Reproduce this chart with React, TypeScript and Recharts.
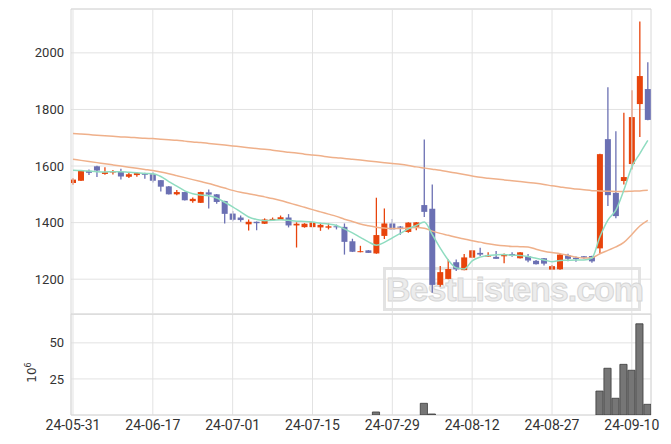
import React from "react";
import { ComposedChart, Bar, Line, XAxis, YAxis, CartesianGrid, ReferenceArea, ReferenceLine } from "recharts";

const dates = [
  "24-05-31", "24-06-03", "24-06-04", "24-06-05", "24-06-07", "24-06-10", "24-06-11", "24-06-12", "24-06-13", "24-06-14",
  "24-06-17", "24-06-18", "24-06-19", "24-06-20", "24-06-21", "24-06-24", "24-06-25", "24-06-26", "24-06-27", "24-06-28",
  "24-07-01", "24-07-02", "24-07-03", "24-07-04", "24-07-05", "24-07-08", "24-07-09", "24-07-10", "24-07-11", "24-07-12",
  "24-07-15", "24-07-16", "24-07-17", "24-07-18", "24-07-19", "24-07-22", "24-07-23", "24-07-24", "24-07-25", "24-07-26",
  "24-07-29", "24-07-30", "24-07-31", "24-08-01", "24-08-02", "24-08-05", "24-08-06", "24-08-07", "24-08-08", "24-08-09",
  "24-08-12", "24-08-13", "24-08-14", "24-08-16", "24-08-19", "24-08-20", "24-08-21", "24-08-22", "24-08-23", "24-08-26",
  "24-08-27", "24-08-28", "24-08-29", "24-08-30", "24-09-02", "24-09-03", "24-09-04", "24-09-05", "24-09-06", "24-09-09",
  "24-09-10", "24-09-11", "24-09-12",
];

const open = [
  1540, 1548, 1583, 1599, 1572, 1577, 1580, 1562, 1568, 1575,
  1571, 1550, 1528, 1500, 1508, 1476, 1470, 1507, 1500, 1476,
  1432, 1418, 1394, 1403, 1396, 1410, 1410, 1418, 1390, 1384,
  1384, 1383, 1382, 1387, 1385, 1334, 1296, 1302, 1291, 1353,
  1397, 1386, 1367, 1385, 1462, 1449, 1180, 1201, 1260, 1232,
  1276, 1293, 1280, 1279, 1281, 1289, 1274, 1281, 1265, 1274,
  1234, 1235, 1284, 1276, 1281, 1282, 1309, 1695, 1505, 1547,
  1607, 1819, 1872,
];
const high = [
  1557, 1584, 1588, 1601, 1596, 1586, 1590, 1575, 1579, 1576,
  1578, 1551, 1529, 1515, 1509, 1489, 1509, 1517, 1501, 1477,
  1441, 1425, 1411, 1404, 1415, 1418, 1425, 1430, 1401, 1398,
  1402, 1399, 1397, 1393, 1397, 1343, 1318, 1303, 1488, 1450,
  1413, 1388, 1401, 1402, 1694, 1535, 1247, 1270, 1270, 1289,
  1303, 1311, 1295, 1300, 1291, 1295, 1296, 1289, 1268, 1275,
  1250, 1290, 1290, 1280, 1282, 1283, 1643, 1878, 1723, 1788,
  1868, 2111, 1967,
];
const low = [
  1534, 1547, 1568, 1561, 1569, 1570, 1552, 1558, 1562, 1555,
  1542, 1510, 1499, 1497, 1478, 1470, 1469, 1450, 1467, 1397,
  1405, 1403, 1372, 1373, 1395, 1408, 1409, 1383, 1312, 1382,
  1383, 1371, 1376, 1376, 1287, 1296, 1295, 1293, 1290, 1342,
  1376, 1357, 1364, 1373, 1420, 1152, 1173, 1200, 1229, 1232,
  1275, 1281, 1279, 1272, 1256, 1279, 1273, 1260, 1252, 1248,
  1233, 1233, 1263, 1262, 1272, 1258, 1291, 1459, 1415, 1535,
  1588, 1703, 1762,
];
const close = [
  1552, 1583, 1576, 1584, 1578, 1582, 1563, 1571, 1575, 1569,
  1548, 1527, 1500, 1508, 1479, 1484, 1508, 1499, 1473, 1431,
  1410, 1409, 1403, 1398, 1411, 1413, 1419, 1390, 1396, 1396,
  1401, 1392, 1387, 1385, 1332, 1297, 1299, 1293, 1356, 1397,
  1376, 1382, 1400, 1401, 1438, 1180, 1225, 1236, 1235, 1277,
  1302, 1287, 1284, 1272, 1289, 1283, 1295, 1266, 1253, 1255,
  1246, 1287, 1272, 1271, 1276, 1263, 1642, 1497, 1423, 1561,
  1773, 1918, 1763,
];

const ma5 = [
  1585, 1584, 1582, 1580, 1579, 1580, 1580, 1578, 1576, 1574,
  1573, 1563, 1545, 1529, 1512, 1502, 1498, 1495, 1487, 1472,
  1456, 1438, 1420, 1411, 1407, 1408, 1410, 1408, 1405, 1404,
  1402, 1398, 1395, 1390, 1378, 1364, 1348, 1332, 1320, 1330,
  1346, 1362, 1378, 1390, 1402, 1358, 1310, 1268, 1240, 1236,
  1265, 1278, 1284, 1286, 1287, 1285, 1284, 1280, 1274, 1268,
  1262, 1266, 1267, 1268, 1268, 1275, 1350, 1409, 1444, 1515,
  1597, 1644, 1691,
];
const ma20 = [
  1624, 1620, 1616, 1612, 1608, 1604, 1600, 1596, 1592, 1588,
  1584, 1579, 1573, 1566, 1559, 1552, 1545, 1538, 1530, 1522,
  1514, 1507, 1502, 1497, 1491, 1485, 1478, 1470, 1462, 1454,
  1446, 1438, 1430, 1422, 1412, 1404, 1395, 1389, 1384, 1381,
  1379, 1379, 1381, 1383, 1380, 1370, 1362, 1355, 1348, 1342,
  1336, 1331, 1325, 1321, 1318, 1316, 1315, 1314, 1306, 1299,
  1294, 1290, 1284, 1278, 1275, 1276, 1290, 1302, 1314, 1330,
  1358, 1388, 1408,
];
const ma60 = [
  1715, 1713, 1711, 1709, 1707, 1705, 1703, 1702, 1700, 1698,
  1697, 1695, 1693, 1691, 1688, 1685, 1683, 1680, 1677, 1674,
  1671, 1668, 1665, 1662, 1659, 1656, 1652, 1649, 1646, 1642,
  1639, 1636, 1632, 1629, 1627, 1624, 1621, 1618, 1615, 1612,
  1609, 1606, 1602, 1597, 1593, 1589, 1585, 1580, 1575, 1570,
  1565, 1560, 1557, 1554, 1551, 1548, 1545, 1542, 1539, 1535,
  1530, 1526, 1522, 1519, 1516, 1513, 1512, 1511, 1510, 1510,
  1511, 1512, 1514,
];

// volume in millions
const volume = [
  0, 0, 0, 0, 0, 0, 0, 0, 0, 0,
  0, 0, 0, 0, 0, 0, 0, 0, 0, 0,
  0, 0, 0, 0, 0, 0, 0, 0, 0, 0,
  0, 0, 0, 0, 0, 0, 0, 0, 2.1, 0,
  0, 0, 0, 0, 8.1, 0.7, 0, 0, 0, 0,
  0, 0, 0, 0, 0, 0, 0, 0, 0, 0,
  0, 0, 0, 0, 0, 0, 16.6, 32.4, 11.6, 35.1,
  31.0, 63.2, 7.4,
];

const xTicks = [0, 10, 20, 30, 40, 50, 60, 70];
const priceTicks = [1200, 1400, 1600, 1800, 2000];
const volumeTicks = [25, 50];

const UP = "#e8440c";
const DOWN = "#6b70b3";
const GRID = "#e2e2e2";
const X_DOMAIN: [number, number] = [-0.25, 72.4];
const P_DOMAIN: [number, number] = [1077, 2155];
const V_DOMAIN: [number, number] = [0, 70];

const data = dates.map((date, i) => ({
  i,
  date,
  open: open[i],
  high: high[i],
  low: low[i],
  close: close[i],
  ma5: ma5[i],
  ma20: ma20[i],
  ma60: ma60[i],
  volume: volume[i],
}));

const tickStyle = { fontFamily: "Roboto", fontSize: 13, fill: "#333" };
const xTickStyle = { fontFamily: "Roboto", fontSize: 14, fill: "#333" };

const Candle = (props: any) => {
  const { x, y, width, height, payload } = props;
  if (payload == null) return null;
  const top = Math.min(y, y + height);
  const h = Math.abs(height);
  const range = payload.high - payload.low || 1;
  const py = (v: number) => top + ((payload.high - v) / range) * h;
  const cx = x + width / 2;
  const color = payload.close >= payload.open ? UP : DOWN;
  const b1 = py(Math.max(payload.open, payload.close));
  const b2 = py(Math.min(payload.open, payload.close));
  return (
    <g>
      <line x1={cx} x2={cx} y1={top} y2={top + h} stroke={color} strokeWidth={1.3} />
      <rect x={cx - 3} y={b1} width={6} height={Math.max(b2 - b1, 1)} fill={color} />
    </g>
  );
};

const PowerLabel = (props: any) => {
  const vb = props.viewBox || { x: 0, y: 0, width: 71, height: 101 };
  const cx = vb.x + 36;
  const cy = vb.y + vb.height / 2 + 8;
  return (
    <text
      x={cx}
      y={cy}
      transform={`rotate(-90 ${cx} ${cy})`}
      textAnchor="middle"
      fontFamily="DejaVu Sans"
      fontSize={12}
      fill="#333"
    >
      10
      <tspan dy={-5} fontSize={8}>6</tspan>
    </text>
  );
};

export default function App() {
  return (
    <div style={{ position: "absolute", left: 0, top: 0, width: 671, height: 444, background: "#fff" }}>
      <div
        style={{
          position: "absolute",
          left: 383,
          top: 267,
          width: 252,
          height: 38,
          border: "3px solid #e3e3e3",
          color: "#ececec",
          WebkitTextStroke: "1px #d6d6d6",
          fontFamily: "Liberation Sans",
          fontWeight: "bold",
          fontSize: 34,
          lineHeight: "38px",
          letterSpacing: -1,
          textAlign: "center",
        }}
      >
        BestListens.com
      </div>

      <div style={{ position: "absolute", left: 0, top: 0 }}>
        <ComposedChart width={671} height={315} data={data} margin={{ top: 9, right: 20, bottom: 0, left: 0 }}>
          <CartesianGrid stroke={GRID} vertical={false} />
          <XAxis
            dataKey="i"
            type="number"
            domain={X_DOMAIN}
            ticks={xTicks}
            allowDataOverflow
            height={1}
            axisLine={false}
            tickLine={false}
            tickFormatter={() => ""}
          />
          <YAxis
            type="number"
            domain={P_DOMAIN}
            ticks={priceTicks}
            allowDataOverflow
            width={71}
            axisLine={false}
            tickLine={false}
            tickSize={5}
            tickMargin={2}
            tick={tickStyle}
          />
          {xTicks.map((t) => (
            <ReferenceLine key={t} x={t} stroke={GRID} />
          ))}
          <ReferenceArea x1={X_DOMAIN[0]} x2={X_DOMAIN[1]} y1={P_DOMAIN[0]} y2={P_DOMAIN[1]} fill="none" stroke="#d8d8d8" />
          <Bar
            dataKey={(d: any) => [d.low, d.high]}
            barSize={6}
            shape={<Candle />}
            isAnimationActive={false}
          />
          <Line type="monotone" dataKey="ma60" stroke="#efb08a" strokeWidth={1.5} dot={false} isAnimationActive={false} />
          <Line type="monotone" dataKey="ma20" stroke="#efb08a" strokeWidth={1.5} dot={false} isAnimationActive={false} />
          <Line type="monotone" dataKey="ma5" stroke="#8fdcc0" strokeWidth={1.5} dot={false} isAnimationActive={false} />
        </ComposedChart>
      </div>

      <div style={{ position: "absolute", left: 0, top: 314 }}>
        <ComposedChart width={671} height={130} data={data} margin={{ top: 0, right: 20, bottom: 0, left: 0 }}>
          <CartesianGrid stroke={GRID} />
          <XAxis
            dataKey="i"
            type="number"
            domain={X_DOMAIN}
            ticks={xTicks}
            allowDataOverflow
            height={29}
            axisLine={false}
            tickLine={false}
            tickSize={4}
            tickMargin={1}
            tick={xTickStyle}
            tickFormatter={(v: number) => dates[v]}
          />
          <YAxis
            type="number"
            domain={V_DOMAIN}
            ticks={volumeTicks}
            allowDataOverflow
            width={71}
            axisLine={false}
            tickLine={false}
            tickSize={5}
            tickMargin={2}
            tick={tickStyle}
            label={{ content: <PowerLabel /> }}
          />
          <ReferenceArea x1={X_DOMAIN[0]} x2={X_DOMAIN[1]} y1={V_DOMAIN[0]} y2={V_DOMAIN[1]} fill="none" stroke="#d8d8d8" />
          <Bar dataKey="volume" barSize={8} fill="#767676" stroke="#3a3a3a" strokeWidth={0.8} isAnimationActive={false} />
        </ComposedChart>
      </div>
    </div>
  );
}
